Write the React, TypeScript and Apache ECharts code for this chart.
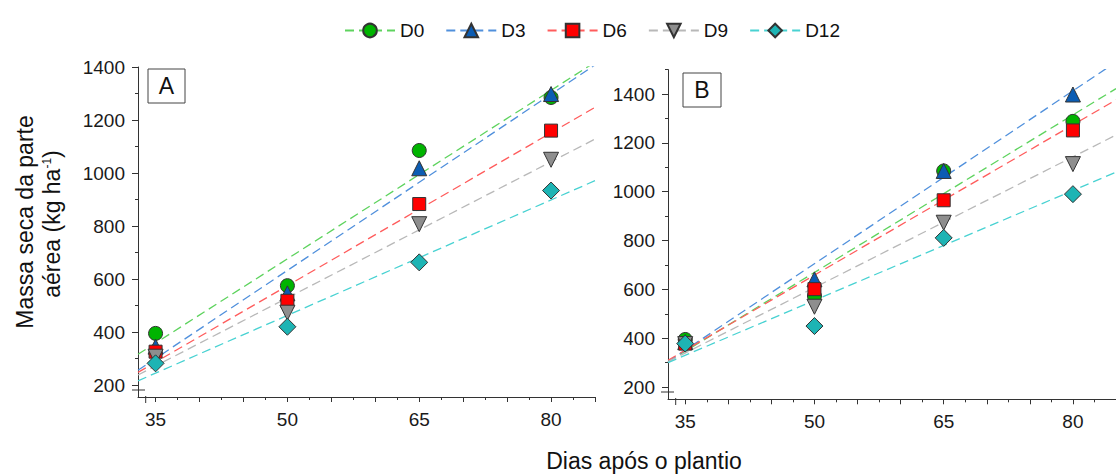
import React, { useEffect, useRef } from "react";
import * as echarts from "echarts";

const days = [35, 50, 65, 80];
const groups = ["D0", "D3", "D6", "D9", "D12"];

// Panel A observed values (kg ha-1)
const aD0 = [395, 575, 1085, 1285];
const aD3 = [345, 546, 1018, 1298];
const aD6 = [326, 518, 883, 1160];
const aD9 = [307, 473, 807, 1050];
const aD12 = [282, 420, 663, 934];
// Panel A fitted lines: value at day 33 and day 85
const fitDays = [33, 85];
const aFitD0 = [316, 1418];
const aFitD3 = [256, 1408];
const aFitD6 = [248, 1248];
const aFitD9 = [238, 1128];
const aFitD12 = [216, 971];

// Panel B observed values
const bD0 = [395, 573, 1085, 1288];
const bD3 = [384, 641, 1085, 1398];
const bD6 = [378, 601, 965, 1251];
const bD9 = [376, 529, 873, 1113];
const bD12 = [378, 450, 811, 990];
// Panel B fitted lines
const bFitD0 = [304, 1422];
const bFitD3 = [304, 1531];
const bFitD6 = [310, 1376];
const bFitD9 = [304, 1232];
const bFitD12 = [300, 1080];

const xLabels = [35, 50, 65, 80];
const xMajor = [35, 40, 45, 50, 55, 60, 65, 70, 75, 80, 85];
const xMinor = [37.5, 42.5, 47.5, 52.5, 57.5, 62.5, 67.5, 72.5, 77.5, 82.5];
const yLabels = [200, 400, 600, 800, 1000, 1200, 1400];
const yMinorA = [300, 500, 700, 900, 1100, 1300];
const yMinorB = [300, 500, 700, 900, 1100, 1300, 1500];

const aObs = [aD0, aD3, aD6, aD9, aD12];
const aFit = [aFitD0, aFitD3, aFitD6, aFitD9, aFitD12];
const bObs = [bD0, bD3, bD6, bD9, bD12];
const bFit = [bFitD0, bFitD3, bFitD6, bFitD9, bFitD12];

const markerFill = ["#00b400", "#0b5cb3", "#ff0000", "#8e8e8e", "#1db4b4"];
const lineColor = ["#5ed35e", "#5090dc", "#ff5c5c", "#b8b8b8", "#48d2d2"];
const symbols = ["circle", "triangle", "rect", "triangle", "diamond"];
const symbolRot = [0, 0, 0, 180, 0];
const symbolSizes = [14, 15, 13, 15, 17];

const FONT = "'Liberation Sans', Arial, sans-serif";

export default function App() {
  const ref = useRef<HTMLDivElement>(null);
  useEffect(() => {
    if (!ref.current) return;
    const chart = echarts.init(ref.current, undefined, { renderer: "svg" });

    const axisLine = { show: true, lineStyle: { color: "#333", width: 1 } };
    const labelStyle = {
      fontSize: 19,
      fontFamily: FONT,
      color: "#1a1a1a",
      formatter: (v: number) => String(v),
    };

    const xAxes = [0, 1].flatMap((g) => [
      {
        type: "value",
        gridIndex: g,
        position: "bottom",
        min: 33,
        max: 85,
        axisLine,
        splitLine: { show: false },
        axisTick: { show: true, customValues: xMajor, length: 5, lineStyle: { color: "#333" } },
        axisLabel: { ...labelStyle, customValues: xLabels, margin: 13 },
      },
      {
        type: "value",
        gridIndex: g,
        position: "bottom",
        offset: 0,
        min: 33,
        max: 85,
        axisLine: { show: false },
        splitLine: { show: false },
        axisTick: { show: true, customValues: xMinor, length: 3, lineStyle: { color: "#333" } },
        axisLabel: { show: false, customValues: xMinor },
      },
    ]);

    const yRanges = [
      [155, 1400, yMinorA],
      [150, 1500, yMinorB],
    ] as const;
    const yAxes = [0, 1].flatMap((g) => [
      {
        type: "value",
        gridIndex: g,
        position: "left",
        min: yRanges[g][0],
        max: yRanges[g][1],
        axisLine,
        splitLine: { show: false },
        axisTick: { show: true, customValues: yLabels, length: 6, lineStyle: { color: "#333" } },
        axisLabel: { ...labelStyle, customValues: yLabels, margin: 13 },
      },
      {
        type: "value",
        gridIndex: g,
        position: "left",
        offset: 0,
        min: yRanges[g][0],
        max: yRanges[g][1],
        axisLine: { show: false },
        splitLine: { show: false },
        axisTick: { show: true, customValues: yRanges[g][2] as any, length: 3, lineStyle: { color: "#333" } },
        axisLabel: { show: false, customValues: yRanges[g][2] as any },
      },
    ]);

    const series: any[] = [];
    groups.forEach((name, i) => {
      [aFit, bFit].forEach((fit, p) => {
        series.push({
          type: "line",
          name,
          xAxisIndex: p * 2,
          yAxisIndex: p * 2,
          data: fitDays.map((d, k) => [d, fit[i][k]]),
          symbol: symbols[i],
          symbolRotate: symbolRot[i],
          symbolSize: symbolSizes[i],
          showSymbol: false,
          clip: true,
          z: 1,
          itemStyle: { color: markerFill[i], borderColor: "#333", borderWidth: 1 },
          lineStyle: { color: lineColor[i], width: 1.3, type: [9, 5] },
        });
      });
    });
    groups.forEach((name, i) => {
      [aObs, bObs].forEach((obs, p) => {
        series.push({
          type: "scatter",
          name,
          xAxisIndex: p * 2,
          yAxisIndex: p * 2,
          data: days.map((d, k) => [d, obs[i][k]]),
          symbol: symbols[i],
          symbolRotate: symbolRot[i],
          symbolSize: symbolSizes[i],
          z: 3,
          itemStyle: { color: markerFill[i], borderColor: "#333", borderWidth: 1, opacity: 1 },
        });
      });
    });

    const brk = { stroke: "#333", lineWidth: 1 };
    chart.setOption({
      animation: false,
      backgroundColor: "#ffffff",
      legend: {
        top: 16,
        left: 339,
        itemWidth: 50,
        itemHeight: 17,
        itemGap: 21,
        data: groups,
        textStyle: { fontSize: 19, fontFamily: FONT, color: "#111" },
      },
      grid: [
        { left: 138, top: 67, right: 521, bottom: 79, containLabel: false },
        { left: 668, top: 69.6, right: -6.4, bottom: 76.7, containLabel: false },
      ],
      xAxis: xAxes,
      yAxis: yAxes,
      series,
      graphic: [
        {
          type: "rect",
          shape: { x: 148, y: 69, width: 37, height: 34 },
          style: { fill: "#fff", stroke: "#444", lineWidth: 1 },
          z: 10,
        },
        {
          type: "text",
          x: 166.5,
          y: 86,
          style: { text: "A", fontSize: 23, fontFamily: FONT, fill: "#111", align: "center", verticalAlign: "middle" },
          z: 11,
        },
        {
          type: "rect",
          shape: { x: 683, y: 73, width: 38, height: 34 },
          style: { fill: "#fff", stroke: "#444", lineWidth: 1 },
          z: 10,
        },
        {
          type: "text",
          x: 702,
          y: 90,
          style: { text: "B", fontSize: 23, fontFamily: FONT, fill: "#111", align: "center", verticalAlign: "middle" },
          z: 11,
        },
        {
          type: "text",
          x: 25,
          y: 222,
          rotation: Math.PI / 2,
          style: { text: "Massa seca da parte", fontSize: 23, fontFamily: FONT, fill: "#111", align: "center", verticalAlign: "middle" },
        },
        {
          type: "text",
          x: 52,
          y: 224,
          rotation: Math.PI / 2,
          style: {
            text: "aérea (kg ha{sup|-1})",
            fontSize: 23,
            fontFamily: FONT,
            fill: "#111",
            align: "center",
            verticalAlign: "middle",
            rich: { sup: { fontSize: 12, fontFamily: FONT, fill: "#111", verticalAlign: "top", padding: [0, 0, 8, 0] } },
          },
        },
        {
          type: "text",
          x: 644,
          y: 461,
          style: { text: "Dias após o plantio", fontSize: 23, fontFamily: FONT, fill: "#111", align: "center", verticalAlign: "middle" },
        },
        { type: "line", shape: { x1: 132, y1: 390, x2: 145, y2: 390 }, style: brk },
        { type: "line", shape: { x1: 145.7, y1: 396, x2: 145.7, y2: 403 }, style: brk },
        { type: "line", shape: { x1: 661, y1: 392, x2: 674, y2: 392 }, style: brk },
        { type: "line", shape: { x1: 675.7, y1: 398, x2: 675.7, y2: 405 }, style: brk },
      ],
    });
    return () => chart.dispose();
  }, []);
  return (
    <div
      ref={ref}
      style={{ position: "fixed", left: 0, top: 0, width: 1116, height: 476, background: "#fff" }}
    />
  );
}
